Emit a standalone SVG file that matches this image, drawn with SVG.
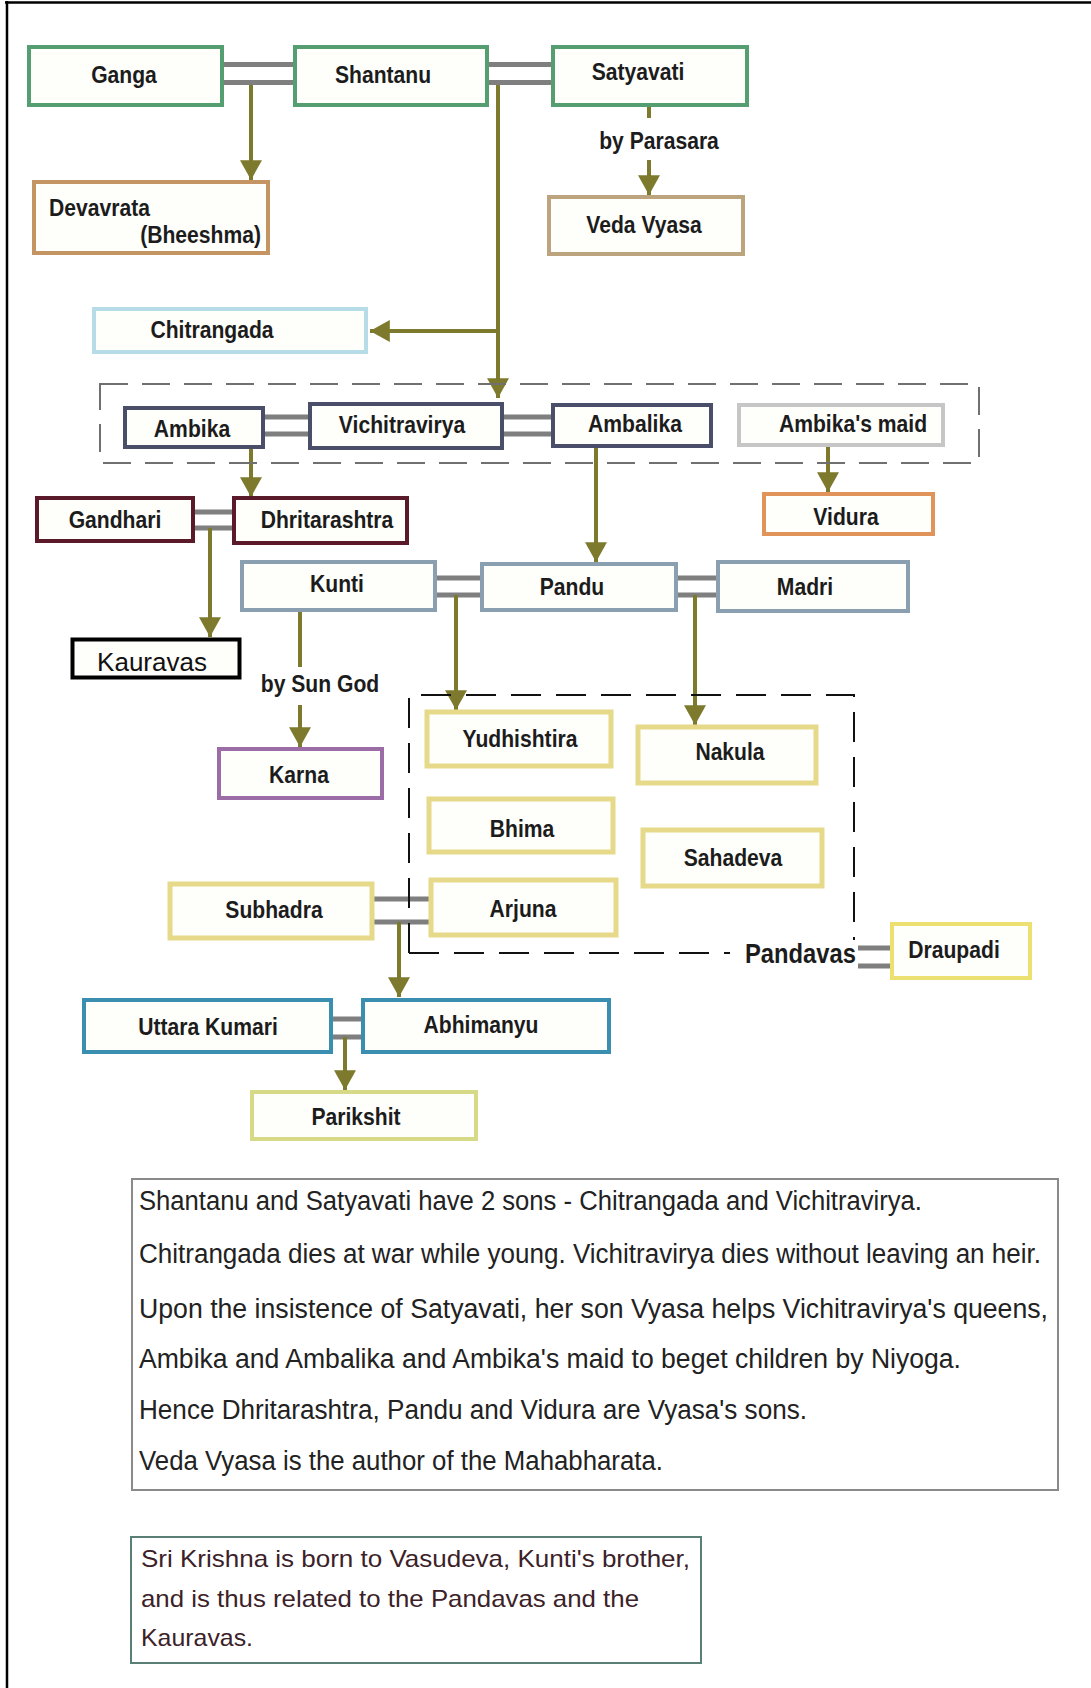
<svg xmlns="http://www.w3.org/2000/svg" width="1091" height="1688" viewBox="0 0 1091 1688">
<defs>
<style>
.box{fill:#fefefb;stroke-width:4}
.lbl{font-family:"Liberation Sans",Arial,sans-serif;font-weight:bold;font-size:24px;fill:#1c1c1c;text-anchor:middle}
.wed{stroke:#7f7f7f;stroke-width:5;fill:none}
.kid{stroke:#7d7a2e;stroke-width:4;fill:none}
.arr{marker-end:url(#ah)}
.body{font-family:"Liberation Sans",Arial,sans-serif;font-size:27px;fill:#222}
.note{font-family:"Liberation Sans",Arial,sans-serif;font-size:24px;fill:#3c2228}
.green{stroke:#559e72}
.yel{stroke:#e6da8a;stroke-width:5}
</style>
<marker id="ah" markerUnits="userSpaceOnUse" markerWidth="22" markerHeight="22" refX="18" refY="10" orient="auto" viewBox="0 0 20 20">
<path d="M0,0 L18,10 L0,20 z" fill="#7d7a2e"/>
</marker>
</defs>
<rect x="0" y="0" width="1091" height="1688" fill="#ffffff"/>
<path d="M5,2.5 H1091 M7,1 V1688" stroke="#000" stroke-width="2.5" fill="none"/>

<g id="connectors">
<path class="wed" d="M224,64.5 H293 M224,82.5 H293 M489,64.5 H551 M489,82.5 H551"/>
<path class="kid arr" d="M251,85 V180"/>
<path class="kid" d="M649,107 V118"/>
<path class="kid arr" d="M649,160 V195"/>
<path class="kid arr" d="M498,85 V398"/>
<path class="kid arr" d="M498,331 H370"/>
<path class="wed" d="M265,417 H308 M265,434 H308 M504,417 H551 M504,434 H551"/>
<path class="kid arr" d="M251,449 V497"/>
<path class="wed" d="M195,512 H232 M195,528 H232"/>
<path class="kid arr" d="M210,528 V637"/>
<path class="kid arr" d="M596,448 V562"/>
<path class="kid arr" d="M828,447 V492"/>
<path class="wed" d="M437,578 H480 M437,595 H480 M678,578 H716 M678,595 H716"/>
<path class="kid" d="M300,612 V667"/>
<path class="kid arr" d="M300,705 V747"/>
<path class="kid arr" d="M456,595 V710"/>
<path class="kid arr" d="M695,595 V725"/>
<path class="wed" d="M374,899 H429 M374,922 H429"/>
<path class="kid arr" d="M399,922 V997"/>
<path class="wed" d="M333,1019 H361 M333,1037 H361"/>
<path class="kid arr" d="M345,1037 V1090"/>
<path class="wed" d="M858,948 H890 M858,966 H890"/>
</g>

<g id="group-vichitravirya">
<rect x="100" y="384" width="879" height="79" fill="none" stroke="#707070" stroke-width="2" stroke-dasharray="28 14"/>
</g>
<g id="group-pandavas">
<path d="M409,953 V695 H854 V940 M409,953 H730" fill="none" stroke="#111" stroke-width="2" stroke-dasharray="30 15"/>
<text class="lbl" transform="translate(745,963) scale(0.88 1)" style="text-anchor:start;font-size:27px">Pandavas</text>
</g>

<g id="n-ganga"><rect class="box green" x="29" y="47" width="193" height="58"/><text class="lbl" transform="translate(124,83) scale(0.88 1)">Ganga</text></g>
<g id="n-shantanu"><rect class="box green" x="295" y="47" width="192" height="58"/><text class="lbl" transform="translate(383,83) scale(0.88 1)">Shantanu</text></g>
<g id="n-satyavati"><rect class="box green" x="553" y="47" width="194" height="58"/><text class="lbl" transform="translate(638,80) scale(0.88 1)">Satyavati</text></g>
<g id="n-devavrata"><rect class="box" stroke="#c49462" x="34" y="182" width="234" height="71"/><text class="lbl" transform="translate(49,216) scale(0.88 1)" style="text-anchor:start">Devavrata</text><text class="lbl" transform="translate(261,243) scale(0.88 1)" style="text-anchor:end">(Bheeshma)</text></g>
<g id="l-parasara"><text class="lbl" transform="translate(659,149) scale(0.88 1)">by Parasara</text></g>
<g id="n-vyasa"><rect class="box" stroke="#bca47e" x="549" y="197" width="194" height="57"/><text class="lbl" transform="translate(644,233) scale(0.88 1)">Veda Vyasa</text></g>
<g id="n-chitrangada"><rect class="box" stroke="#b6dce8" x="94" y="309" width="272" height="43"/><text class="lbl" transform="translate(212,338) scale(0.88 1)">Chitrangada</text></g>
<g id="n-ambika"><rect class="box" stroke="#4a4e68" x="125" y="408" width="138" height="39"/><text class="lbl" transform="translate(192,437) scale(0.88 1)">Ambika</text></g>
<g id="n-vichitravirya"><rect class="box" stroke="#4a4e68" x="310" y="404" width="192" height="44"/><text class="lbl" transform="translate(402,433) scale(0.88 1)">Vichitravirya</text></g>
<g id="n-ambalika"><rect class="box" stroke="#4a4e68" x="553" y="405" width="158" height="41"/><text class="lbl" transform="translate(635,432) scale(0.88 1)">Ambalika</text></g>
<g id="n-maid"><rect class="box" stroke="#c6c6c6" stroke-width="5" x="739" y="405" width="204" height="40"/><text class="lbl" transform="translate(853,432) scale(0.88 1)">Ambika's maid</text></g>
<g id="n-gandhari"><rect class="box" stroke="#5a1a2a" stroke-width="5" x="37" y="498" width="156" height="43"/><text class="lbl" transform="translate(115,528) scale(0.88 1)">Gandhari</text></g>
<g id="n-dhritarashtra"><rect class="box" stroke="#5a1a2a" stroke-width="5" x="234" y="498" width="173" height="45"/><text class="lbl" transform="translate(327,528) scale(0.88 1)">Dhritarashtra</text></g>
<g id="n-vidura"><rect class="box" stroke="#e0945a" stroke-width="5" x="764" y="494" width="169" height="40"/><text class="lbl" transform="translate(846,525) scale(0.88 1)">Vidura</text></g>
<g id="n-kauravas"><rect class="box" stroke="#000" stroke-width="5" x="72.5" y="639.5" width="167" height="38"/><text x="152" y="671" style="font-family:'Liberation Sans',Arial,sans-serif;font-size:26px;fill:#111;text-anchor:middle">Kauravas</text></g>
<g id="n-kunti"><rect class="box" stroke="#8aa0b0" stroke-width="5" x="242" y="562" width="193" height="48"/><text class="lbl" transform="translate(337,592) scale(0.88 1)">Kunti</text></g>
<g id="n-pandu"><rect class="box" stroke="#8aa0b0" stroke-width="5" x="482" y="564" width="194" height="46"/><text class="lbl" transform="translate(572,595) scale(0.88 1)">Pandu</text></g>
<g id="n-madri"><rect class="box" stroke="#8aa0b0" stroke-width="5" x="718" y="562" width="190" height="49"/><text class="lbl" transform="translate(805,595) scale(0.88 1)">Madri</text></g>
<g id="l-sungod"><text class="lbl" transform="translate(320,692) scale(0.88 1)">by Sun God</text></g>
<g id="n-karna"><rect class="box" stroke="#9c6ca6" x="219" y="749" width="163" height="49"/><text class="lbl" transform="translate(299,783) scale(0.88 1)">Karna</text></g>
<g id="n-yudhishtira"><rect class="box yel" x="427" y="712" width="184" height="54"/><text class="lbl" transform="translate(520,747) scale(0.88 1)">Yudhishtira</text></g>
<g id="n-nakula"><rect class="box yel" x="638" y="727" width="178" height="56"/><text class="lbl" transform="translate(730,760) scale(0.88 1)">Nakula</text></g>
<g id="n-bhima"><rect class="box yel" x="429" y="799" width="184" height="53"/><text class="lbl" transform="translate(522,837) scale(0.88 1)">Bhima</text></g>
<g id="n-sahadeva"><rect class="box yel" x="643" y="830" width="179" height="56"/><text class="lbl" transform="translate(733,866) scale(0.88 1)">Sahadeva</text></g>
<g id="n-arjuna"><rect class="box yel" x="431" y="880" width="185" height="55"/><text class="lbl" transform="translate(523,917) scale(0.88 1)">Arjuna</text></g>
<g id="n-subhadra"><rect class="box yel" x="170" y="884" width="202" height="54"/><text class="lbl" transform="translate(274,918) scale(0.88 1)">Subhadra</text></g>
<g id="n-draupadi"><rect class="box" stroke="#ece070" stroke-width="5" x="892" y="924" width="138" height="54"/><text class="lbl" transform="translate(954,958) scale(0.88 1)">Draupadi</text></g>
<g id="n-uttara"><rect class="box" stroke="#3a8eb0" stroke-width="5" x="84" y="1000" width="247" height="52"/><text class="lbl" transform="translate(208,1035) scale(0.88 1)">Uttara Kumari</text></g>
<g id="n-abhimanyu"><rect class="box" stroke="#3a8eb0" stroke-width="5" x="363" y="1000" width="246" height="52"/><text class="lbl" transform="translate(481,1033) scale(0.88 1)">Abhimanyu</text></g>
<g id="n-parikshit"><rect class="box" stroke="#d6da86" stroke-width="5" x="252" y="1092" width="224" height="47"/><text class="lbl" transform="translate(356,1125) scale(0.88 1)">Parikshit</text></g>

<g id="note-1">
<rect x="132" y="1179" width="926" height="311" fill="#fff" stroke="#8a8a8a" stroke-width="2"/>
<text class="body" x="139" y="1210" textLength="783" lengthAdjust="spacingAndGlyphs">Shantanu and Satyavati have 2 sons - Chitrangada and Vichitravirya.</text>
<text class="body" x="139" y="1263" textLength="902" lengthAdjust="spacingAndGlyphs">Chitrangada dies at war while young. Vichitravirya dies without leaving an heir.</text>
<text class="body" x="139" y="1318" textLength="909" lengthAdjust="spacingAndGlyphs">Upon the insistence of Satyavati, her son Vyasa helps Vichitravirya's queens,</text>
<text class="body" x="139" y="1368" textLength="822" lengthAdjust="spacingAndGlyphs">Ambika and Ambalika and Ambika's maid to beget children by Niyoga.</text>
<text class="body" x="139" y="1419" textLength="668" lengthAdjust="spacingAndGlyphs">Hence Dhritarashtra, Pandu and Vidura are Vyasa's sons.</text>
<text class="body" x="139" y="1470" textLength="524" lengthAdjust="spacingAndGlyphs">Veda Vyasa is the author of the Mahabharata.</text>
</g>
<g id="note-2">
<rect x="131" y="1537" width="570" height="126" fill="#fff" stroke="#5a7f74" stroke-width="2"/>
<text class="note" x="141" y="1567" textLength="549" lengthAdjust="spacingAndGlyphs">Sri Krishna is born to Vasudeva, Kunti's brother,</text>
<text class="note" x="141" y="1607" textLength="498" lengthAdjust="spacingAndGlyphs">and is thus related to the Pandavas and the</text>
<text class="note" x="141" y="1646" textLength="112" lengthAdjust="spacingAndGlyphs">Kauravas.</text>
</g>
</svg>
